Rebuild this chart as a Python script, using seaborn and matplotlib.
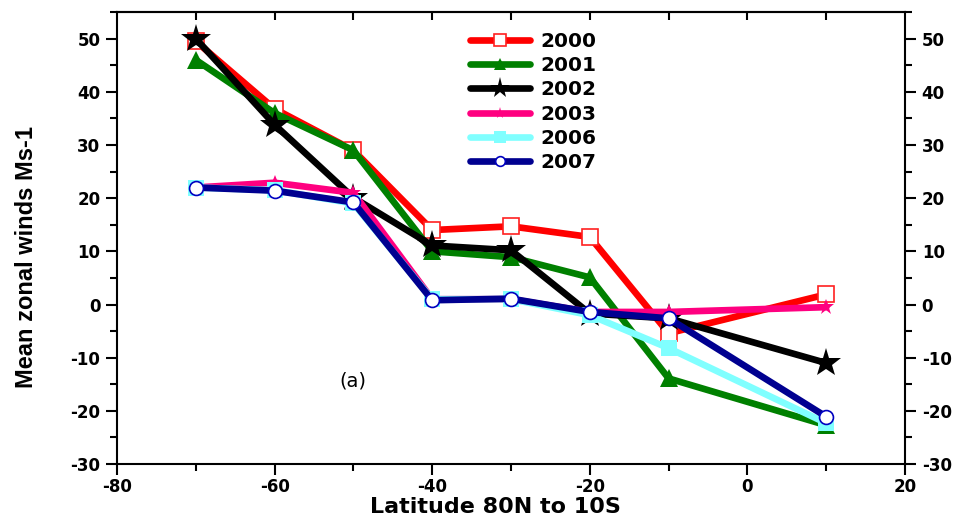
import numpy as np
import pandas as pd
import matplotlib
matplotlib.use("Agg")
import matplotlib.pyplot as plt
import seaborn as sns
from matplotlib.ticker import MultipleLocator

sns.set_theme(style="white")
plt.rcParams['font.family'] = ['DejaVu Sans']
plt.rcParams['axes.unicode_minus'] = False
plt.rcParams['text.color'] = 'black'
plt.rcParams['axes.labelcolor'] = 'black'
plt.rcParams['xtick.color'] = 'black'
plt.rcParams['ytick.color'] = 'black'

latitude = [-70, -60, -50, -40, -30, -20, -10, 10]
y2000 = [49.5, 36.8, 29.0, 14.0, 14.7, 12.7, -5.4, 1.9]
y2001 = [46.0, 36.0, 29.0, 10.0, 8.9, 5.1, -13.9, -22.7]
y2002 = [50.0, 33.8, 20.1, 11.1, 10.2, -1.7, -2.6, -11.0]
y2003 = [22.0, 22.9, 21.0, 1.0, 1.0, -1.4, -1.4, -0.5]
y2006 = [22.0, 21.5, 19.0, 1.0, 1.0, -2.0, -8.2, -22.3]
y2007 = [22.0, 21.4, 19.2, 0.8, 1.1, -1.4, -2.6, -21.1]
years = ["2000", "2001", "2002", "2003", "2006", "2007"]

series = [y2000, y2001, y2002, y2003, y2006, y2007]
styles = {
    "2000": dict(color="#FF0000", marker="s", ms=12, mfc="white", mec="#FF2020", mew=1.2),
    "2001": dict(color="#008000", marker="^", ms=13, mfc="#008000", mec="#008000", mew=0),
    "2002": dict(color="#000000", marker="*", ms=22, mfc="#000000", mec="#000000", mew=0),
    "2003": dict(color="#FF0080", marker="*", ms=12, mfc="#FF0080", mec="#FF0080", mew=0),
    "2006": dict(color="#80FFFF", marker="s", ms=12, mfc="#80FFFF", mec="#80FFFF", mew=0),
    "2007": dict(color="#000090", marker="o", ms=10, mfc="white", mec="#0000C0", mew=1.2),
}

fig = plt.figure(figsize=(9.69, 5.22), dpi=100)
ax = fig.add_axes([0.1207, 0.111, 0.8133, 0.866])

for yr, vals in zip(years, series):
    st = styles[yr]
    df = pd.DataFrame({"lat": latitude, "wind": vals})
    sns.lineplot(data=df, x="lat", y="wind", ax=ax, color=st["color"], lw=4.8,
                 marker=st["marker"], markersize=st["ms"], markerfacecolor=st["mfc"],
                 markeredgecolor=st["mec"], markeredgewidth=st["mew"], label=yr)

ax.set_xlim(-80, 20)
ax.set_ylim(-30, 55)
ax.xaxis.set_major_locator(MultipleLocator(20))
ax.xaxis.set_minor_locator(MultipleLocator(10))
ax.set_yticks(np.arange(-30, 51, 10))
ax.yaxis.set_minor_locator(MultipleLocator(5))
ax.tick_params(axis='both', which='major', direction='out', length=8, width=1.5,
               labelsize=12, left=True, bottom=True, right=True, labelright=True, pad=4)
ax.tick_params(axis='both', which='minor', direction='out', length=5, width=1.5,
               left=True, bottom=True, right=True)
ax.tick_params(axis='x', which='major', pad=2)
for lab in ax.get_xticklabels() + ax.get_yticklabels():
    lab.set_fontweight('bold')
for t in ax.yaxis.get_major_ticks():
    t.label2.set_fontweight('bold')

sec = ax.secondary_xaxis('top')
sec.set_xticks(np.arange(-70, 20, 10))
sec.tick_params(direction='in', length=6, width=1.5, labeltop=False)
sec.spines['top'].set_linewidth(1.5)

for s in ax.spines.values():
    s.set_linewidth(1.5)
    s.set_color('black')

ax.set_xlabel("Latitude 80N to 10S", fontsize=16, fontweight='bold')
ax.xaxis.set_label_coords(0.48, -0.072)
ax.set_ylabel("Mean zonal winds Ms-1", fontsize=17, fontweight='bold',
              family=['Liberation Sans', 'DejaVu Sans'])
ax.yaxis.set_label_coords(-0.1, 0.458)
ax.text(-51.8, -15.5, "(a)", fontsize=14)

leg = ax.legend(loc='upper left', bbox_to_anchor=(0.485, 0.939), bbox_transform=fig.transFigure,
                frameon=False, prop={'weight': 'bold', 'size': 14.5},
                handlelength=3.0, labelspacing=0.26, markerscale=0.7, handletextpad=0.5,
                borderaxespad=0, borderpad=0)

fig.savefig("out.png", dpi=100)
